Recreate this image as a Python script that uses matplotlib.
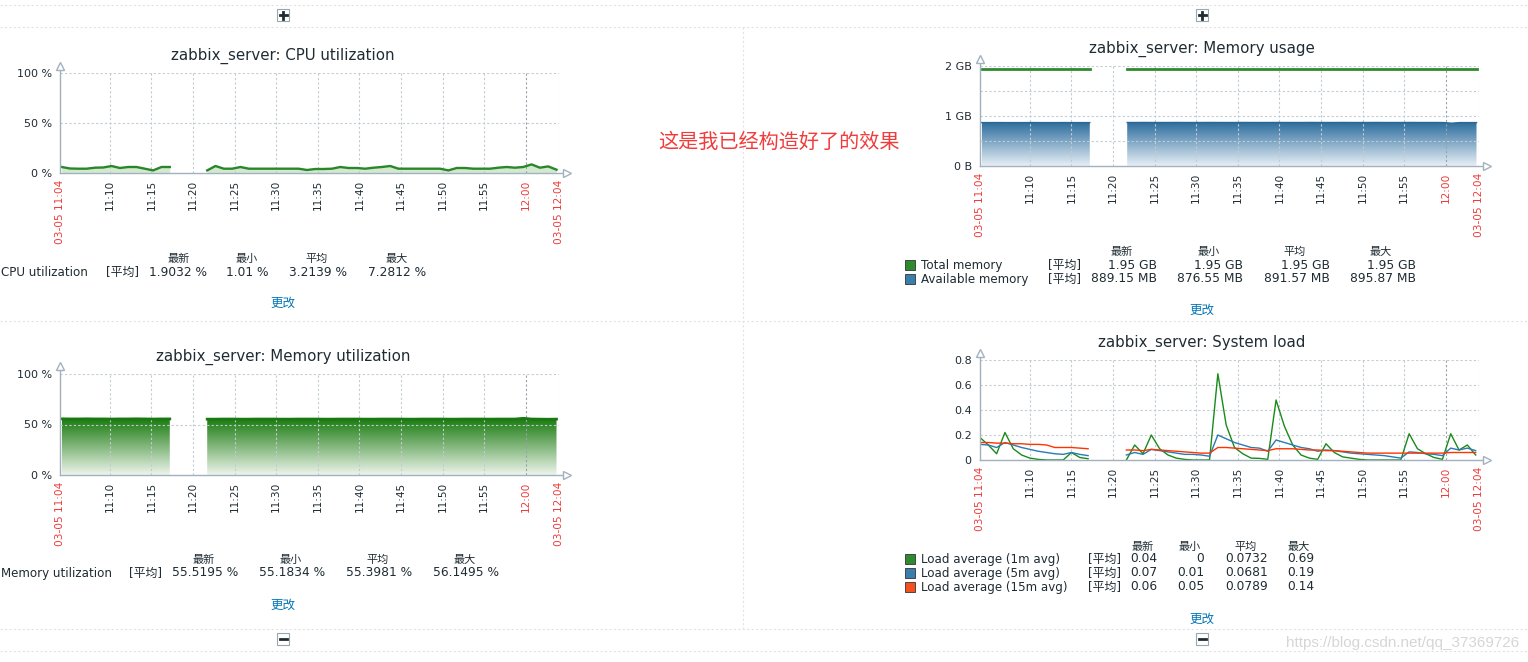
"""
Zabbix dashboard: four graphs of zabbix_server over one hour (03-05 11:04 - 12:04).
"""
import numpy as np
import matplotlib
matplotlib.use("Agg")
import matplotlib.pyplot as plt
from matplotlib.colors import LinearSegmentedColormap
from matplotlib.patches import Rectangle
from matplotlib.lines import Line2D
from matplotlib.path import Path

plt.rcParams["font.family"] = ["DejaVu Sans", "Noto Sans CJK SC"]

W, H = 1528, 662

# ============= DATA (time = minutes after 11:04) =============
# CPU / memory items, sampled once a minute, gap between 11:17 and 11:22
t_a = np.arange(0.2, 13.3, 1.0)
t_b = np.arange(17.7, 59.8, 1.0)

cpu_a = [6.0, 4.5, 4.3, 4.3, 5.3, 5.5, 7.0, 5.0, 6.0, 6.0, 4.3, 2.6, 6.0, 6.0]
cpu_b = [2.6, 7.0, 4.3, 4.3, 6.0, 4.3, 4.3, 4.3, 4.3, 4.3,
         4.3, 4.3, 3.0, 4.0, 4.0, 4.3, 6.0, 5.0, 5.0, 4.3,
         5.3, 6.0, 7.0, 4.3, 4.3, 4.3, 4.3, 4.3, 4.3, 2.6,
         5.0, 5.0, 4.3, 4.3, 4.3, 5.3, 6.0, 5.3, 6.0, 8.6,
         5.3, 6.6, 3.3]

memu_a = [55.6, 55.5, 55.5, 55.6, 55.5, 55.5, 55.4, 55.5, 55.5, 55.6, 55.5, 55.4, 55.5, 55.5]
memu_b = [55.3, 55.3, 55.4, 55.4, 55.3, 55.3, 55.4, 55.4, 55.4, 55.3,
          55.3, 55.4, 55.4, 55.4, 55.3, 55.3, 55.4, 55.4, 55.4, 55.3,
          55.3, 55.4, 55.4, 55.4, 55.3, 55.3, 55.4, 55.4, 55.4, 55.3,
          55.3, 55.4, 55.4, 55.4, 55.3, 55.4, 55.4, 55.4, 56.1, 55.4,
          55.3, 55.2, 55.3]

total_gb_a = [1.95, 1.95, 1.95, 1.95, 1.95, 1.95, 1.95, 1.95, 1.95, 1.95, 1.95, 1.95, 1.95, 1.95]
total_gb_b = [1.95, 1.95, 1.95, 1.95, 1.95, 1.95, 1.95, 1.95, 1.95, 1.95,
              1.95, 1.95, 1.95, 1.95, 1.95, 1.95, 1.95, 1.95, 1.95, 1.95,
              1.95, 1.95, 1.95, 1.95, 1.95, 1.95, 1.95, 1.95, 1.95, 1.95,
              1.95, 1.95, 1.95, 1.95, 1.95, 1.95, 1.95, 1.95, 1.95, 1.95,
              1.95, 1.95, 1.95]
avail_mb_a = [889, 889, 890, 889, 889, 889, 890, 889, 889, 889, 890, 889, 889, 889]
avail_mb_b = [891, 891, 892, 891, 891, 891, 892, 891, 891, 891,
              892, 891, 891, 891, 892, 891, 891, 891, 892, 891,
              891, 891, 892, 891, 891, 891, 892, 891, 891, 891,
              892, 891, 891, 891, 892, 891, 891, 891, 890, 876.5,
              889, 889, 889]

# system load
tl_a = np.arange(0.0, 13.1, 1.0)
tl_b = np.arange(17.6, 59.7, 1.0)
load1_a = [0.18, 0.12, 0.05, 0.22, 0.09, 0.04, 0.015, 0.005, 0.0, 0.0, 0.0, 0.06, 0.02, 0.01]
load1_b = [0.0, 0.12, 0.05, 0.2, 0.09, 0.04, 0.015, 0.005, 0.0, 0.0,
           0.0, 0.69, 0.28, 0.1, 0.05, 0.015, 0.013, 0.005, 0.48, 0.27,
           0.12, 0.04, 0.015, 0.005, 0.13, 0.06, 0.025, 0.015, 0.005, 0.0,
           0.0, 0.0, 0.0, 0.0, 0.21, 0.09, 0.05, 0.02, 0.005, 0.21,
           0.08, 0.12, 0.04]
load5_a = [0.125, 0.12, 0.1, 0.14, 0.12, 0.1, 0.085, 0.07, 0.06, 0.05, 0.045, 0.06, 0.045, 0.035]
load5_b = [0.04, 0.06, 0.045, 0.085, 0.075, 0.065, 0.055, 0.045, 0.045, 0.04,
           0.03, 0.2, 0.17, 0.14, 0.12, 0.1, 0.095, 0.07, 0.16, 0.14,
           0.12, 0.1, 0.09, 0.07, 0.08, 0.075, 0.065, 0.055, 0.05, 0.045,
           0.04, 0.035, 0.025, 0.015, 0.065, 0.06, 0.05, 0.045, 0.035, 0.095,
           0.08, 0.095, 0.075]
load15_a = [0.14, 0.14, 0.135, 0.135, 0.13, 0.13, 0.125, 0.125, 0.12, 0.1, 0.1, 0.1, 0.095, 0.09]
load15_b = [0.08, 0.08, 0.075, 0.085, 0.08, 0.075, 0.07, 0.065, 0.06, 0.055,
            0.055, 0.1, 0.1, 0.095, 0.09, 0.085, 0.08, 0.075, 0.09, 0.09,
            0.09, 0.085, 0.08, 0.08, 0.075, 0.075, 0.07, 0.065, 0.06, 0.055,
            0.055, 0.055, 0.055, 0.055, 0.055, 0.055, 0.055, 0.055, 0.055, 0.06,
            0.06, 0.06, 0.06]

tick_min = [0, 6, 11, 16, 21, 26, 31, 36, 41, 46, 51, 56, 60]
tick_lab = ["03-05 11:04", "11:10", "11:15", "11:20", "11:25", "11:30", "11:35",
            "11:40", "11:45", "11:50", "11:55", "12:00", "03-05 12:04"]
tick_red = [0, 11, 12]

heads = ["最新", "最小", "平均", "最大"]
cpu_stats = ["1.9032 %", "1.01 %", "3.2139 %", "7.2812 %"]
memu_stats = ["55.5195 %", "55.1834 %", "55.3981 %", "56.1495 %"]
total_stats = ["1.95 GB", "1.95 GB", "1.95 GB", "1.95 GB"]
avail_stats = ["889.15 MB", "876.55 MB", "891.57 MB", "895.87 MB"]
load1_stats = ["0.04", "0", "0.0732", "0.69"]
load5_stats = ["0.07", "0.01", "0.0681", "0.19"]
load15_stats = ["0.06", "0.05", "0.0789", "0.14"]

# ============= STYLE =============
AX_C = "#a3b1bf"
GRID_C = "#c3cbd3"
TXT = "#1f2c33"
RED = "#ee3b3b"
LINK = "#0275b8"
GREEN = "#2f8a2f"
BLUE = "#3a7eab"
ORANGE = "#f4511e"

fig = plt.figure(figsize=(W / 100, H / 100), dpi=100)


def fx(x):
    return x / W


def fy(y):
    return 1 - y / H


def chart(x0, x1, y_top, y_bot, ymax, yticks, ylabels, ygrid, title, title_x, title_y):
    ax = fig.add_axes([fx(x0), fy(y_bot), (x1 - x0) / W, (y_bot - y_top) / H])
    ax.patch.set_visible(False)
    for s in ax.spines.values():
        s.set_visible(False)
    ax.set_yticks(yticks)
    ax.set_yticklabels(ylabels)
    ax.set_xticks(tick_min)
    ax.set_xticklabels(tick_lab, rotation=90)
    ax.tick_params(axis="y", length=0, pad=6, labelsize=8, labelcolor=TXT)
    ax.tick_params(axis="x", length=0, pad=5, labelsize=7.6, labelcolor=TXT)
    for i, lab in enumerate(ax.get_xticklabels()):
        if i in tick_red:
            lab.set_color(RED)
    for g in ygrid:
        ax.axhline(g, color=GRID_C, lw=0.8, ls=(0, (2, 2)), zorder=2)
    for m in tick_min[1:]:
        ax.axvline(m, color="#98a1aa" if m == 56 else GRID_C, lw=0.8, ls=(0, (2, 2)), zorder=2)
    ax.plot([0, 0], [0, 1.05], transform=ax.transAxes, color=AX_C, lw=1, clip_on=False, zorder=4)
    ax.plot([0, 1.008], [0, 0], transform=ax.transAxes, color=AX_C, lw=1, clip_on=False, zorder=4)
    ax.plot([0], [1.075], marker="^", ms=6, mfc="white", mec=AX_C, mew=1,
            transform=ax.transAxes, clip_on=False, zorder=4)
    ax.plot([1.016], [0], marker=">", ms=6, mfc="white", mec=AX_C, mew=1,
            transform=ax.transAxes, clip_on=False, zorder=4)
    fig.text(fx(title_x), fy(title_y), title, ha="center", va="center", fontsize=10.8, color=TXT)
    return ax


def gradient_fill(ax, t, v, top, bottom):
    t = np.asarray(t)
    v = np.asarray(v, dtype=float)
    verts = np.column_stack([np.r_[t[0], t, t[-1], t[0]], np.r_[0, v, 0, 0]])
    cmap = LinearSegmentedColormap.from_list("grad", [bottom, top])
    grad = np.linspace(1, 0, 256).reshape(-1, 1)
    im = ax.imshow(grad, cmap=cmap, aspect="auto", origin="upper", interpolation="bilinear",
                   extent=[t[0], t[-1], 0, v.max()], zorder=1)
    im.set_clip_path(Path(verts), ax.transData)


def legend(names, stats, name_x, avg_x, val_r, head_x, head_y, row_y, colors=None):
    for hx, h in zip(head_x, heads):
        fig.text(fx(hx), fy(head_y), h, ha="center", va="center", fontsize=8, color=TXT)
    for i, (name, vals) in enumerate(zip(names, stats)):
        y = row_y[i]
        if colors is not None:
            fig.add_artist(Rectangle((fx(905), fy(y + 5)), 10 / W, 10 / H, transform=fig.transFigure,
                                     fc=colors[i], ec="#333333", lw=0.6))
        fig.text(fx(name_x), fy(y), name, ha="left", va="center", fontsize=8.6, color=TXT)
        fig.text(fx(avg_x), fy(y), "[平均]", ha="left", va="center", fontsize=8.6, color=TXT)
        for vx, v in zip(val_r, vals):
            fig.text(fx(vx), fy(y), v, ha="right", va="center", fontsize=8.8, color=TXT)


def link(x, y):
    fig.text(fx(x), fy(y), "更改", ha="center", va="center", fontsize=9, color=LINK)


def button(cx, cy, plus=True):
    fig.add_artist(Rectangle((fx(cx - 6), fy(cy + 6)), 12 / W, 12 / H, transform=fig.transFigure,
                             fc="white", ec="#9aa5b0", lw=0.8))
    fig.add_artist(Line2D([fx(cx - 3.5), fx(cx + 3.5)], [fy(cy), fy(cy)], transform=fig.transFigure,
                          color=TXT, lw=2))
    if plus:
        fig.add_artist(Line2D([fx(cx), fx(cx)], [fy(cy - 3.5), fy(cy + 3.5)], transform=fig.transFigure,
                              color=TXT, lw=2))


# ============= DASHBOARD FRAME =============
for y in [5, 27, 321, 629, 651]:
    fig.add_artist(Line2D([0, 1], [fy(y), fy(y)], transform=fig.transFigure,
                          color="#e3e3e3", lw=0.8, ls=(0, (2, 2))))
fig.add_artist(Line2D([fx(743), fx(743)], [fy(27), fy(629)], transform=fig.transFigure,
                      color="#e3e3e3", lw=0.8, ls=(0, (2, 2))))
button(283, 15)
button(1202, 15)
button(283, 639, plus=False)
button(1202, 639, plus=False)

# ============= CPU UTILIZATION =============
ax = chart(60, 559, 73, 173, 100, [0, 50, 100], ["0 %", "50 %", "100 %"], [50, 100],
           "zabbix_server: CPU utilization", 283, 56)
for t, v in [(t_a, cpu_a), (t_b, cpu_b)]:
    ax.fill_between(t, 0, v, color="#d3e9cf", lw=0, zorder=1)
    ax.plot(t, v, color="#2a862a", lw=1.7, zorder=3)
ax.set_xlim(0, 60)
ax.set_ylim(0, 100)
legend(["CPU utilization"], [cpu_stats], 1, 106, [207, 269, 347, 426],
       [179, 247, 317, 397], 259, [272])
link(283, 303)

# ============= MEMORY UTILIZATION =============
ax = chart(60, 559, 374, 475, 100, [0, 50, 100], ["0 %", "50 %", "100 %"], [50, 100],
           "zabbix_server: Memory utilization", 283, 357)
for t, v in [(t_a, memu_a), (t_b, memu_b)]:
    gradient_fill(ax, t, v, "#187a0e", "#eef5ec")
    ax.plot(t, v, color="#187a0e", lw=2, zorder=3)
ax.set_xlim(0, 60)
ax.set_ylim(0, 100)
legend(["Memory utilization"], [memu_stats], 1, 129, [238, 325, 412, 499],
       [204, 291, 378, 465], 560, [573])
link(283, 605)

# ============= MEMORY USAGE =============
ax = chart(980, 1479, 66, 166, 2, [0, 1, 2], ["0 B", "1 GB", "2 GB"], [0.5, 1, 1.5, 2],
           "zabbix_server: Memory usage", 1202, 49)
for t, v in [(t_a, avail_mb_a), (t_b, avail_mb_b)]:
    gb = np.asarray(v) / 1024
    gradient_fill(ax, t, gb, "#2c6d9d", "#e8eff6")
    ax.plot(t, gb, color="#2a6794", lw=1, zorder=3)
for t, v in [(t_a, total_gb_a), (t_b, total_gb_b)]:
    ax.plot(t, v, color=GREEN, lw=2, zorder=3)
ax.set_xlim(0, 60)
ax.set_ylim(0, 2)
legend(["Total memory", "Available memory"], [total_stats, avail_stats], 921, 1048,
       [1157, 1243, 1330, 1416], [1122, 1209, 1295, 1381], 252, [265, 279],
       colors=[GREEN, BLUE])
link(1202, 310)

# ============= SYSTEM LOAD =============
ax = chart(980, 1479, 360, 460, 0.8, [0, 0.2, 0.4, 0.6, 0.8], ["0", "0.2", "0.4", "0.6", "0.8"],
           [0.2, 0.4, 0.6, 0.8], "zabbix_server: System load", 1202, 343)
for t, v in [(tl_a, load1_a), (tl_b, load1_b)]:
    ax.plot(t, v, color="#1a8a1a", lw=1, zorder=3)
for t, v in [(tl_a, load5_a), (tl_b, load5_b)]:
    ax.plot(t, v, color="#2b7ab3", lw=1, zorder=3)
for t, v in [(tl_a, load15_a), (tl_b, load15_b)]:
    ax.plot(t, v, color="#ff3300", lw=1, zorder=3)
ax.set_xlim(0, 60)
ax.set_ylim(0, 0.8)
legend(["Load average (1m avg)", "Load average (5m avg)", "Load average (15m avg)"],
       [load1_stats, load5_stats, load15_stats], 921, 1088,
       [1157, 1204, 1268, 1314], [1143, 1190, 1246, 1299], 547, [559, 573, 587],
       colors=[GREEN, BLUE, ORANGE])
link(1202, 619)

# ============= ANNOTATIONS =============
fig.text(fx(779), fy(142), "这是我已经构造好了的效果", ha="center", va="center",
         fontsize=14.5, color="#f03c3c", family=["Noto Sans CJK SC", "DejaVu Sans"])
fig.text(fx(1519), fy(643), "https://blog.csdn.net/qq_37369726", ha="right", va="center",
         fontsize=11, color="#d6d6d6", family=["Liberation Sans", "DejaVu Sans"])

fig.savefig("out.png", dpi=100)
